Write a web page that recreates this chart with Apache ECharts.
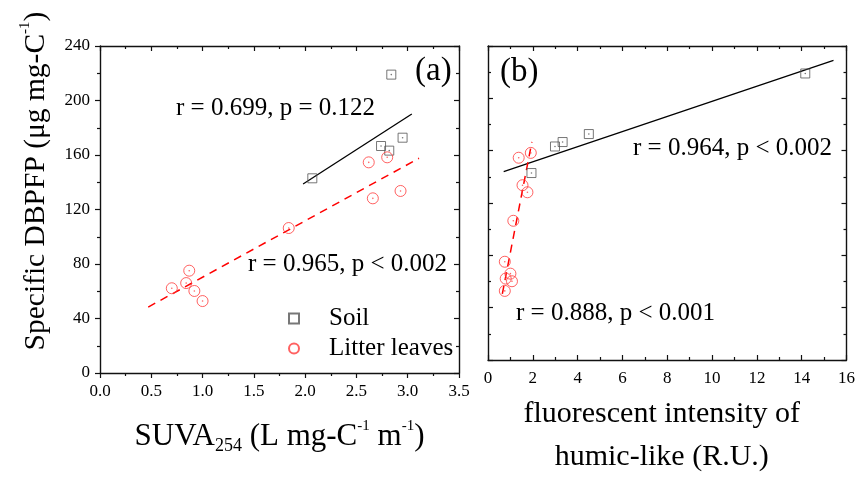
<!DOCTYPE html>
<html>
<head>
<meta charset="utf-8">
<script src="https://cdn.jsdelivr.net/npm/echarts@6/dist/echarts.min.js"></script>
<style>
html, body { margin: 0; padding: 0; background: #fff; }
#main { width: 858px; height: 484px; }
</style>
</head>
<body>
<div id="main"></div>
<script>
// specific DBPFP, one value per sample (same samples in both panels)
var soilDbpfp = [142.9, 166.6, 163.2, 172.7, 219.0];
var soilSuva = [2.07, 2.74, 2.82, 2.95, 2.84];
var soilHumic = [1.94, 3.33, 2.99, 4.50, 14.16];

var leafDbpfp = [154.6, 158.3, 133.6, 128.2, 106.4, 75.1, 66.0, 62.2, 60.2, 52.8];
var leafSuva = [2.62, 2.80, 2.93, 2.66, 1.84, 0.87, 0.84, 0.70, 0.92, 1.00];
var leafHumic = [1.37, 1.91, 1.54, 1.76, 1.13, 0.75, 1.00, 0.79, 1.07, 0.75];

// regression lines, end points
var soilFitSuva = [[1.98, 138.7], [3.04, 190.1]];
var leafFitSuva = [[0.47, 48.4], [3.11, 157.6]];
var soilFitHumic = [[0.70, 143.9], [15.42, 229.0]];
var leafFitHumic = [[0.64, 50.6], [1.96, 166.8]];

// tick labels
var suvaTicks = [0.0, 0.5, 1.0, 1.5, 2.0, 2.5, 3.0, 3.5];
var humicTicks = [0, 2, 4, 6, 8, 10, 12, 14, 16];
var dbpfpTicks = [0, 40, 80, 120, 160, 200, 240];

var FONT = 'Liberation Serif';

function zip(xs, ys) {
    return xs.map(function (x, i) { return [x, ys[i]]; });
}

function axis(ticks, opts) {
    return {
        type: 'value',
        gridIndex: opts.grid,
        position: opts.position,
        min: ticks[0],
        max: ticks[ticks.length - 1],
        interval: ticks[1] - ticks[0],
        splitLine: { show: false },
        axisLine: { show: true, onZero: false, lineStyle: { color: '#111', width: 1.4 } },
        axisTick: { show: true, inside: opts.inside, length: 5, lineStyle: { color: '#111', width: 1.2 } },
        minorTick: { show: true, splitNumber: 2, length: 3, lineStyle: { color: '#111', width: 1.2 } },
        axisLabel: {
            show: !!opts.label,
            margin: opts.margin || 10,
            color: '#000',
            fontFamily: FONT,
            fontSize: 17,
            formatter: opts.fmt || '{value}'
        }
    };
}

function richSet(size) {
    return {
        t: { fontFamily: FONT, fontSize: size, lineHeight: 36, color: '#000' },
        sup: { fontFamily: FONT, fontSize: 15, lineHeight: 24, verticalAlign: 'top', color: '#000' },
        sub: { fontFamily: FONT, fontSize: 18, lineHeight: 4, verticalAlign: 'bottom', color: '#000' }
    };
}

var xSuva = axis(suvaTicks, { grid: 0, position: 'bottom', inside: false, label: true,
    fmt: function (v) { return v.toFixed(1); } });
xSuva.name = '{t|SUVA}{sub|254}{t| (L mg-C}{sup|-1}{t| m}{sup|-1}{t|)}';
xSuva.nameLocation = 'middle';
xSuva.nameGap = 46;
xSuva.nameTextStyle = { rich: richSet(31) };

var xHumic = axis(humicTicks, { grid: 1, position: 'bottom', inside: true, label: true });
xHumic.name = 'fluorescent intensity of\nhumic-like (R.U.)';
xHumic.nameLocation = 'middle';
xHumic.nameGap = 33;
xHumic.nameTextStyle = { fontFamily: FONT, fontSize: 30, lineHeight: 43, color: '#000', padding: [0, 11, 0, 0] };

var option = {
    animation: false,
    backgroundColor: '#fff',
    textStyle: { fontFamily: FONT },
    grid: [
        { left: 100, top: 46, width: 359, height: 327 },
        { left: 488, top: 46, width: 359, height: 327 }
    ],
    xAxis: [
        xSuva,
        axis(suvaTicks, { grid: 0, position: 'top', inside: true }),
        xHumic,
        axis(humicTicks, { grid: 1, position: 'top', inside: true })
    ],
    yAxis: [
        axis(dbpfpTicks, { grid: 0, position: 'left', inside: false, label: true, margin: 10 }),
        axis(dbpfpTicks, { grid: 0, position: 'right', inside: true }),
        axis(dbpfpTicks, { grid: 1, position: 'left', inside: true }),
        axis(dbpfpTicks, { grid: 1, position: 'right', inside: true })
    ],
    legend: {
        data: ['Soil', 'Litter leaves'],
        orient: 'vertical',
        left: 283,
        top: 301,
        itemWidth: 10,
        itemHeight: 10,
        itemGap: 5,
        selectedMode: false,
        textStyle: { fontFamily: FONT, fontSize: 25, color: '#000', padding: [0, 0, 0, 25] }
    },
    graphic: [
        {
            type: 'text', x: 36, y: 181, rotation: Math.PI / 2,
            style: {
                text: '{t|Specific DBPFP (μg mg-C}{sup|-1}{t|)}',
                rich: richSet(29.5),
                align: 'center', verticalAlign: 'middle'
            }
        },
        { type: 'text', x: 176, y: 108, style: { text: 'r = 0.699, p = 0.122', fontFamily: FONT, fontSize: 25, fill: '#000', align: 'left', verticalAlign: 'middle' } },
        { type: 'text', x: 415, y: 71, style: { text: '(a)', fontFamily: FONT, fontSize: 33, fill: '#000', align: 'left', verticalAlign: 'middle' } },
        { type: 'text', x: 248, y: 264, style: { text: 'r = 0.965, p < 0.002', fontFamily: FONT, fontSize: 25, fill: '#000', align: 'left', verticalAlign: 'middle' } },
        { type: 'text', x: 500, y: 72, style: { text: '(b)', fontFamily: FONT, fontSize: 33, fill: '#000', align: 'left', verticalAlign: 'middle' } },
        { type: 'text', x: 633, y: 148, style: { text: 'r = 0.964, p < 0.002', fontFamily: FONT, fontSize: 25, fill: '#000', align: 'left', verticalAlign: 'middle' } },
        { type: 'text', x: 516, y: 313, style: { text: 'r = 0.888, p < 0.001', fontFamily: FONT, fontSize: 25, fill: '#000', align: 'left', verticalAlign: 'middle' } }
    ],
    series: []
};

function markers(name, xi, yi, data, kind) {
    var isSoil = kind === 'soil';
    var col = isSoil ? '#555' : '#ff3b3b';
    option.series.push({
        name: name,
        type: 'scatter',
        xAxisIndex: xi, yAxisIndex: yi,
        symbol: isSoil ? 'rect' : 'circle',
        symbolSize: isSoil ? 9 : 11,
        silent: true,
        z: 3,
        itemStyle: { color: 'rgba(255,255,255,0)', borderColor: col, borderWidth: 1 },
        data: data
    });
    // small dot at the centre of every marker
    option.series.push({
        name: name + ' centre',
        type: 'scatter',
        xAxisIndex: xi, yAxisIndex: yi,
        symbol: 'circle',
        symbolSize: 1.6,
        silent: true,
        z: 4,
        itemStyle: { color: col },
        data: data
    });
}

function fitLine(xi, yi, data, kind) {
    var isSoil = kind === 'soil';
    option.series.push({
        type: 'line',
        xAxisIndex: xi, yAxisIndex: yi,
        symbol: 'none',
        silent: true,
        z: 2,
        lineStyle: isSoil
            ? { color: '#000', width: 1.3, type: 'solid' }
            : { color: '#ff0000', width: 1.5, type: [8, 6] },
        data: data
    });
}

fitLine(0, 0, soilFitSuva, 'soil');
fitLine(0, 0, leafFitSuva, 'leaf');
fitLine(2, 2, soilFitHumic, 'soil');
fitLine(2, 2, leafFitHumic, 'leaf');
markers('Soil', 0, 0, zip(soilSuva, soilDbpfp), 'soil');
markers('Litter leaves', 0, 0, zip(leafSuva, leafDbpfp), 'leaf');
markers('Soil', 2, 2, zip(soilHumic, soilDbpfp), 'soil');
markers('Litter leaves', 2, 2, zip(leafHumic, leafDbpfp), 'leaf');

var chart = echarts.init(document.getElementById('main'));
chart.setOption(option);
</script>
</body>
</html>
